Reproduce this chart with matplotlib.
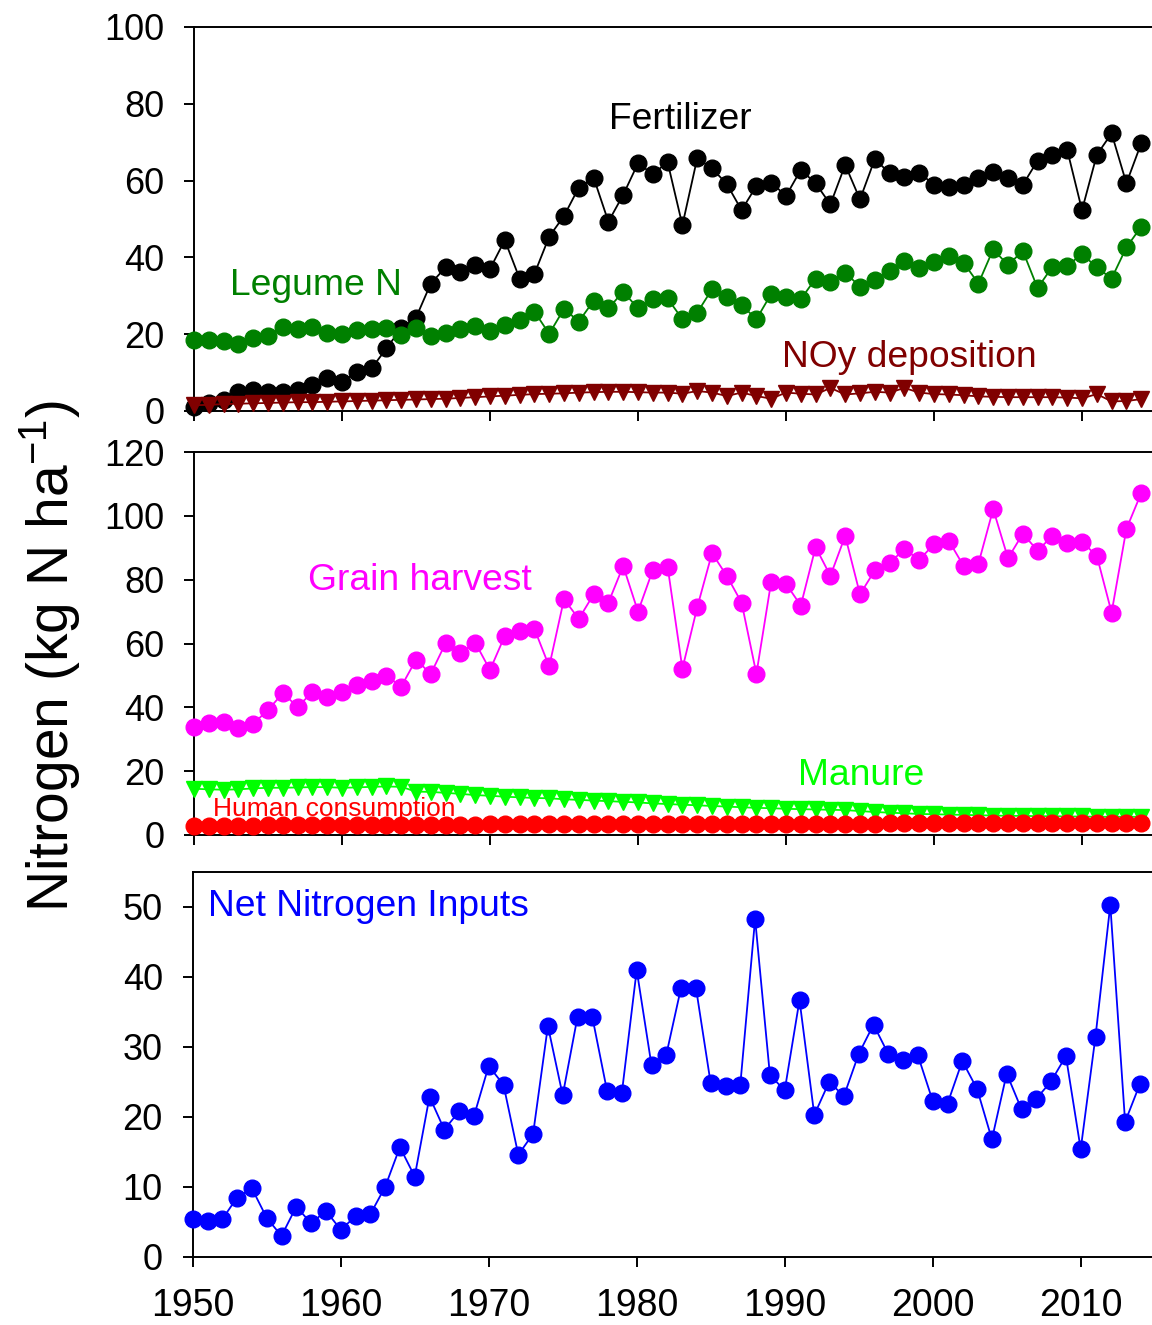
import matplotlib
matplotlib.use("Agg")
import matplotlib.pyplot as plt

plt.rcParams["font.family"] = ["Liberation Sans", "DejaVu Sans"]
plt.rcParams["mathtext.fontset"] = "custom"
plt.rcParams["mathtext.rm"] = "Liberation Sans"
plt.rcParams["mathtext.it"] = "Liberation Sans:italic"

# Années
years = list(range(1950, 2015))

# Panneau du haut : apports
fertilizer = [1.1, 2.0, 2.9, 5.0, 5.5, 5.0, 5.0, 5.5, 6.8, 8.5,
              7.6, 10.2, 11.1, 16.3, 21.5, 24.3, 33.2, 37.4, 36.3, 38.0,
              37.0, 44.5, 34.5, 35.7, 45.4, 50.8, 58.2, 60.8, 49.3, 56.3,
              64.5, 61.7, 64.8, 48.4, 65.8, 63.2, 59.1, 52.3, 58.6, 59.5,
              56.0, 62.8, 59.3, 53.8, 64.1, 55.1, 65.6, 61.9, 61.0, 62.1,
              58.9, 58.4, 58.9, 60.8, 62.3, 60.6, 58.9, 65.2, 66.7, 68.0,
              52.3, 66.7, 72.3, 59.3, 69.7]
legume = [18.5, 18.5, 18.1, 17.4, 18.9, 19.5, 22.0, 21.3, 22.0, 20.2,
          20.0, 21.1, 21.3, 21.7, 19.8, 21.5, 19.5, 20.4, 21.3, 22.2,
          20.9, 22.4, 23.7, 25.9, 20.1, 26.6, 23.3, 28.7, 26.7, 31.1,
          26.7, 29.1, 29.3, 23.9, 25.6, 31.7, 29.8, 27.6, 23.9, 30.5,
          29.6, 29.1, 34.5, 33.7, 36.0, 32.4, 34.1, 36.5, 39.1, 37.3,
          38.7, 40.4, 38.6, 33.2, 42.1, 38.0, 41.7, 32.0, 37.6, 37.8,
          40.9, 37.4, 34.5, 42.6, 48.0]
noy = [1.5, 1.6, 1.8, 1.9, 2.0, 2.1, 2.2, 2.3, 2.3, 2.4,
       2.5, 2.6, 2.7, 2.8, 2.9, 3.0, 3.1, 3.2, 3.4, 3.6,
       3.8, 4.0, 4.2, 4.4, 4.5, 4.6, 4.8, 4.9, 5.0, 5.0,
       4.9, 4.8, 4.8, 4.5, 5.2, 4.8, 3.9, 4.8, 3.9, 3.2,
       4.8, 4.5, 4.3, 6.0, 4.3, 4.6, 5.0, 4.8, 6.0, 4.8,
       4.4, 4.3, 4.1, 3.8, 3.7, 3.6, 3.6, 3.6, 3.6, 3.5,
       3.3, 4.4, 2.5, 2.6, 3.1]

# Panneau du milieu : sorties
grain = [33.9, 35.0, 35.3, 33.6, 34.8, 39.2, 44.4, 40.2, 44.7, 43.2,
         44.9, 47.0, 48.1, 49.9, 46.5, 54.9, 50.5, 60.1, 57.0, 60.3,
         51.7, 62.4, 64.0, 64.6, 52.8, 73.9, 67.7, 75.4, 72.8, 84.3,
         70.0, 83.0, 84.1, 52.1, 71.3, 88.3, 81.2, 72.8, 50.5, 79.4,
         78.7, 71.9, 90.2, 81.2, 93.7, 75.4, 82.9, 85.2, 89.6, 86.2,
         91.1, 92.2, 84.3, 85.0, 102.1, 86.7, 94.4, 89.1, 93.7, 91.4,
         91.8, 87.5, 69.7, 95.9, 107.1]
manure = [14.5, 14.3, 14.2, 14.3, 14.6, 14.8, 14.8, 14.9, 15.0, 15.0,
          14.8, 14.9, 15.1, 15.2, 15.1, 13.6, 13.5, 13.2, 12.9, 12.5,
          12.3, 12.0, 11.8, 11.6, 11.5, 11.2, 11.0, 10.8, 10.6, 10.4,
          10.2, 9.9, 9.7, 9.5, 9.3, 9.1, 8.9, 8.7, 8.5, 8.4,
          8.2, 8.1, 8.0, 7.9, 7.8, 7.5, 7.2, 7.0, 6.8, 6.6,
          6.5, 6.4, 6.3, 6.2, 6.1, 6.0, 6.0, 5.9, 5.9, 5.8,
          5.8, 5.7, 5.7, 5.7, 5.7]
human = [2.9, 2.9, 2.9, 2.9, 2.9, 3.0, 3.0, 3.0, 3.0, 3.0,
         3.1, 3.1, 3.1, 3.1, 3.1, 3.2, 3.2, 3.2, 3.2, 3.2,
         3.3, 3.3, 3.3, 3.3, 3.3, 3.4, 3.4, 3.4, 3.4, 3.4,
         3.4, 3.5, 3.5, 3.5, 3.5, 3.5, 3.5, 3.5, 3.5, 3.6,
         3.6, 3.6, 3.6, 3.6, 3.6, 3.6, 3.6, 3.7, 3.7, 3.7,
         3.7, 3.7, 3.7, 3.7, 3.7, 3.7, 3.7, 3.7, 3.7, 3.7,
         3.7, 3.7, 3.7, 3.7, 3.7]

# Panneau du bas : bilan net
net = [5.4, 5.2, 5.4, 8.5, 9.8, 5.6, 3.0, 7.2, 4.8, 6.6,
       3.9, 5.8, 6.1, 10.0, 15.7, 11.5, 22.9, 18.2, 20.8, 20.1,
       27.3, 24.6, 14.6, 17.6, 33.0, 23.1, 34.3, 34.3, 23.7, 23.5,
       41.0, 27.4, 28.9, 38.5, 38.5, 24.8, 24.5, 24.6, 48.3, 26.0,
       23.8, 36.7, 20.3, 25.0, 23.0, 29.0, 33.2, 29.0, 28.1, 28.8,
       22.3, 21.9, 28.0, 24.0, 16.8, 26.2, 21.1, 22.6, 25.1, 28.7,
       15.4, 31.5, 50.3, 19.3, 24.7]

W, H = 1152, 1325
fig = plt.figure(figsize=(W / 100, H / 100), dpi=100)


def panel(left_px, top_px, bottom_px):
    return fig.add_axes([left_px / W, 1 - bottom_px / H,
                         1 - left_px / W, (bottom_px - top_px) / H])


ax1 = panel(194, 27, 411)
ax2 = panel(194, 452, 835)
ax3 = panel(192.7, 872, 1257)

for ax in (ax1, ax2, ax3):
    ax.spines["right"].set_visible(False)
    for s in ("left", "top", "bottom"):
        ax.spines[s].set_linewidth(1.4)
    ax.tick_params(axis="both", direction="out", length=7.5, width=1.4,
                   top=False, right=False)
    ax.tick_params(axis="y", pad=14, labelsize=26)
    ax.tick_params(axis="x", pad=15, labelsize=27)
    ax.set_xticks(range(1950, 2011, 10))
    ax.set_xlim(1950, 1950 + (W - 194) / 14.8)

ax3.set_xlim(1950, 1950 + (W - 192.7) / 14.8)
ax1.tick_params(axis="x", labelbottom=False)
ax2.tick_params(axis="x", labelbottom=False)

style = dict(lw=1.3, clip_on=False)
fs = 26.8

# Panneau 1
ax1.plot(years, fertilizer, color="black", marker="o", ms=12, zorder=3, **style)
ax1.plot(years, legume, color="#008000", marker="o", ms=12, zorder=4, **style)
ax1.plot(years, noy, color="#800000", marker="v", ms=11, zorder=5, **style)
ax1.set_ylim(0, 100)
ax1.set_yticks(range(0, 101, 20))
ax1.text(1978.04, 73.4, "Fertilizer", fontsize=fs, color="black", zorder=1)
ax1.text(1952.4, 30.2, "Legume N", fontsize=fs, color="#008000", zorder=1)
ax1.text(1989.7, 11.5, "NOy deposition", fontsize=fs, color="#800000", zorder=1)

# Panneau 2
ax2.text(1957.73, 76.8, "Grain harvest", fontsize=fs, color="magenta", zorder=1)
ax2.text(1990.83, 15.7, "Manure", fontsize=fs, color="#00FF00", zorder=1)
ax2.text(1951.26, 6.0, "Human consumption", fontsize=19, color="red", zorder=1)
ax2.plot(years, grain, color="magenta", marker="o", ms=12, zorder=3, **style)
ax2.plot(years, manure, color="#00FF00", marker="v", ms=11, zorder=4, **style)
ax2.plot(years, human, color="red", marker="o", ms=12, zorder=5, **style)
ax2.set_ylim(0, 120)
ax2.set_yticks(range(0, 121, 20))

# Panneau 3
ax3.plot(years, net, color="blue", marker="o", ms=12, zorder=3, **style)
ax3.set_ylim(0, 55)
ax3.set_yticks(range(0, 51, 10))
ax3.text(1951.05, 48.75, "Net Nitrogen Inputs", fontsize=fs, color="blue", zorder=1)

fig.text(50 / W, 1 - 656 / H, "Nitrogen (kg N ha$^{\\mathrm{-1}}$)", rotation=90,
         fontsize=41, ha="center", va="center")

fig.savefig("out.png", dpi=100)
